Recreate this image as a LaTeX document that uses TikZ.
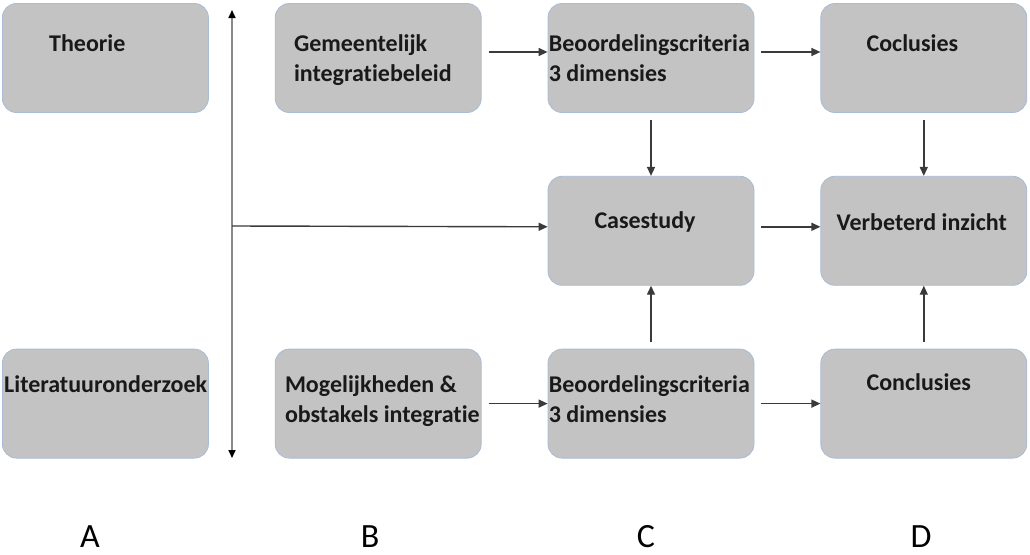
\documentclass[tikz,border=0pt]{standalone}
\usepackage{fontspec}
\setmainfont{Carlito}[Ligatures=NoCommon]
\usetikzlibrary{positioning, arrows.meta}

\definecolor{boxgray}{HTML}{C3C3C3}
\definecolor{boxedge}{HTML}{A9BCD7}
\definecolor{linegray}{HTML}{3A3A3A}
\definecolor{axisgray}{HTML}{8A8A8A}

\begin{document}
\begin{tikzpicture}[x=1pt, y=-1pt, node distance=63pt and 66pt,
	stap/.style={draw=boxedge, fill=boxgray, rounded corners=14pt, minimum width=206pt, minimum height=109pt, inner sep=0pt, line width=0.8pt},
	tekst/.style={font=\bfseries\fontsize{24}{30}\selectfont, align=left, inner sep=0pt, text=black!90},
	pijl/.style={draw=linegray, line width=1.4pt, -{Triangle[length=9pt, width=8pt]}, shorten <=7pt},
	kolom/.style={font=\fontsize{34}{40}\selectfont, inner sep=0pt}]
	\useasboundingbox (0, 0) rectangle (1030, 554);

	% boxes
	\node [stap] (crit1) at (651, 58) {};
	\node [stap, left=of crit1] (gem) {};
	\node [stap, left=of gem] (theorie) {};
	\node [stap, right=of crit1] (concl1) {};
	\node [stap, below=of crit1] (case) {};
	\node [stap, right=of case] (inzicht) {};
	\node [stap, below=of case] (crit2) {};
	\node [stap, left=of crit2] (mogel) {};
	\node [stap, left=of mogel] (lit) {};
	\node [stap, right=of crit2] (concl2) {};

	% texts (base = last line)
	\node [tekst, anchor=base west] (theorie-t) at ([xshift=47pt, yshift=-48pt]theorie.north west) {Theorie};
	\node [tekst, anchor=base west] (gem-t) at ([xshift=19pt, yshift=-78pt]gem.north west) {Gemeentelijk\\integratiebeleid};
	\node [tekst, anchor=base west] (crit1-t) at ([xshift=1pt, yshift=-78pt]crit1.north west) {Beoordelingscriteria\\3 dimensies};
	\node [tekst, anchor=base west] (concl1-t) at ([xshift=46pt, yshift=-48pt]concl1.north west) {Coclusies};
	\node [tekst, anchor=base] (case-t) at ([xshift=-6pt, yshift=2pt]case.center) {Casestudy};
	\node [tekst, anchor=base] (inzicht-t) at ([xshift=-2pt, yshift=0pt]inzicht.center) {Verbeterd inzicht};
	\node [tekst, anchor=base west] (lit-t) at ([xshift=2pt, yshift=-44pt]lit.north west) {Literatuuronderzoek};
	\node [tekst, anchor=base west] (mogel-t) at ([xshift=10pt, yshift=-74pt]mogel.north west) {Mogelijkheden \&\\obstakels integratie};
	\node [tekst, anchor=base west] (crit2-t) at ([xshift=1pt, yshift=-74pt]crit2.north west) {Beoordelingscriteria\\3 dimensies};
	\node [tekst, anchor=base west] (concl2-t) at ([xshift=46pt, yshift=-42pt]concl2.north west) {Conclusies};

	% column letters
	\node [kolom, anchor=base] (kolA) at (90, 547) {A};
	\node [kolom, anchor=base] (kolB) at (370, 547) {B};
	\node [kolom, anchor=base] (kolC) at (646, 547) {C};
	\node [kolom, anchor=base] (kolD) at (921, 547) {D};

	% left axis
	\coordinate (asboven) at (232, 10);
	\coordinate (asonder) at (232, 458);
	\coordinate (asmidden) at (232, 226);
	\draw [draw=axisgray, line width=1.6pt, {Triangle[length=8pt, width=7pt, color=black]}-{Triangle[length=8pt, width=7pt, color=black]}] (asboven) -- (asonder);
	\draw [pijl, shorten <=0pt] (asmidden) -- ([yshift=4pt]case.west);

	% arrows
	\draw [pijl] ([yshift=6pt]gem.east) -- ([yshift=6pt]crit1.west);
	\draw [pijl] ([yshift=6pt]crit1.east) -- ([yshift=6pt]concl1.west);
	\draw [pijl] (crit1) -- (case);
	\draw [pijl] (concl1) -- (inzicht);
	\draw [pijl] ([yshift=4pt]case.east) -- ([yshift=4pt]inzicht.west);
	\draw [pijl] (crit2) -- (case);
	\draw [pijl] (concl2) -- (inzicht);
	\draw [pijl] (mogel) -- (crit2);
	\draw [pijl] (crit2) -- (concl2);
\end{tikzpicture}
\end{document}
